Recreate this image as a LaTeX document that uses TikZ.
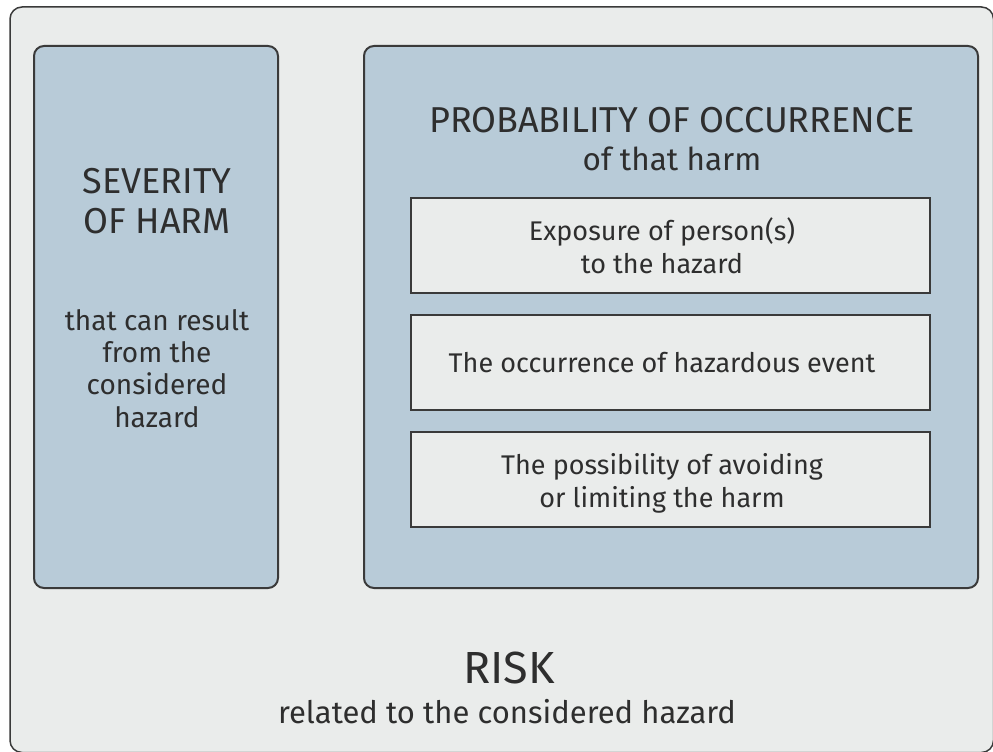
\documentclass[tikz,border=0pt]{standalone}
\usepackage{fontspec}
\setmainfont{Fira Sans}

\definecolor{framegray}{HTML}{EAECEB}
\definecolor{panelblue}{HTML}{B8CBD8}
\definecolor{inkgray}{HTML}{2E2E2E}
\definecolor{edgegray}{HTML}{3A3A3A}

\tikzset{
  panel/.style={draw=edgegray, line width=2pt, fill=panelblue, rounded corners=10pt},
  factor/.style={draw=edgegray, line width=2pt, fill=framegray},
  heading/.style={text=inkgray, align=center, anchor=base, font=\fontsize{36}{40}\selectfont},
  plain/.style={text=inkgray, align=center, anchor=base, font=\fontsize{27}{33}\selectfont}
}

\begin{document}
\begin{tikzpicture}[x=1pt, y=-1pt]
        \clip (0,0) rectangle (993,752);
        \fill[white] (0,0) rectangle (993,752);
        % outer frame
        \draw[draw=edgegray, line width=1.5pt, fill=framegray, rounded corners=12pt] (10,7) rectangle (993.5,752.5);
        % the two panels
        \draw[panel] (34,46) rectangle (278,588);
        \draw[panel] (364,46) rectangle (978,588);
        % the three factors
        \draw[factor] (411,198) rectangle (930,293);
        \draw[factor] (411,315) rectangle (930,410);
        \draw[factor] (411,432) rectangle (930,527);
        % texts, placed by the baseline of their last line
        \node[heading] (severity) at (157,193) {SEVERITY};
        \node[heading] (harm) at (157,233) {OF HARM};
        \node[plain, font=\fontsize{28}{32.3}\selectfont] (result) at (157,427) {that can result\\from the\\considered\\hazard};
        \node[heading] (probability) at (672,132) {PROBABILITY OF OCCURRENCE};
        \node[plain, font=\fontsize{31.5}{36}\selectfont] (thatharm) at (672,170) {of that harm};
        \node[plain] (exposure) at (662,273) {Exposure of person(s)\\to the hazard};
        \node[plain] (event) at (662,372) {The occurrence of hazardous event};
        \node[plain] (avoiding) at (662,507) {The possibility of avoiding\\or limiting the harm};
        \node[heading, font=\fontsize{45}{50}\selectfont] (risk) at (509,683) {RISK};
        \node[plain, font=\fontsize{31}{36}\selectfont] (related) at (507,723) {related to the considered hazard};
    \end{tikzpicture}
\end{document}
